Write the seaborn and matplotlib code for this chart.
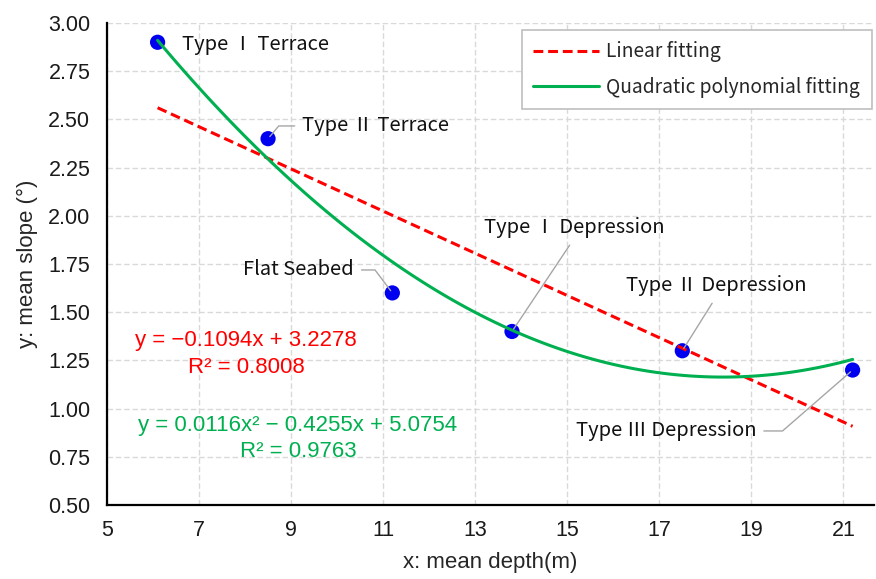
import numpy as np
import pandas as pd
import seaborn as sns
import matplotlib.pyplot as plt

# Data
depth = [6.1, 8.5, 11.2, 13.8, 17.5, 21.2]
slope = [2.9, 2.4, 1.6, 1.4, 1.3, 1.2]
names = ["Type Ⅰ Terrace", "Type Ⅱ Terrace", "Flat Seabed",
         "Type Ⅰ Depression", "Type Ⅱ Depression", "Type Ⅲ Depression"]

lin_eq = "y = −0.1094x + 3.2278"
lin_r2 = "R² = 0.8008"
quad_eq = "y = 0.0116x² − 0.4255x + 5.0754"
quad_r2 = "R² = 0.9763"

df = pd.DataFrame({"depth": depth, "slope": slope})

sns.set_style("white")
plt.rcParams["font.family"] = ["Liberation Sans", "DejaVu Sans"]
ann_font = ["Noto Sans CJK SC", "DejaVu Sans"]

fig = plt.figure(figsize=(8.76, 5.79), dpi=100)
ax = fig.add_axes([0.1221, 0.1278, 0.8759, 0.8325])

red = "#FF0000"
green = "#00B050"

sns.scatterplot(data=df, x="depth", y="slope", ax=ax, color="#0000F0",
                s=120, edgecolor="none", zorder=2, legend=False)
sns.regplot(data=df, x="depth", y="slope", ax=ax, order=1, ci=None, scatter=False,
            truncate=True, label="Linear fitting",
            line_kws=dict(color=red, lw=2.2, ls=(0, (3.2, 1.6)), zorder=3))
sns.regplot(data=df, x="depth", y="slope", ax=ax, order=2, ci=None, scatter=False,
            truncate=True, label="Quadratic polynomial fitting",
            line_kws=dict(color=green, lw=2.2, zorder=3))

ax.set_xlim(5, 21.67)
ax.set_ylim(0.5, 3.0)
ax.set_xticks([5, 7, 9, 11, 13, 15, 17, 19, 21])
ax.set_yticks(np.arange(0.5, 3.01, 0.25))
ax.yaxis.set_major_formatter(plt.FormatStrFormatter("%.2f"))
ax.tick_params(axis="both", length=0, labelsize=15.5, colors="#1a1a1a")
ax.tick_params(axis="x", pad=11)
ax.tick_params(axis="y", pad=12)
ax.grid(True, ls=(0, (4, 2)), color="#d9d9d9", lw=1)
ax.set_axisbelow(True)
for s in ["top", "right"]:
    ax.spines[s].set_visible(False)
for s in ["left", "bottom"]:
    ax.spines[s].set_color("black")
    ax.spines[s].set_linewidth(1.6)

ax.set_xlabel("x: mean depth(m)", fontsize=16, labelpad=8)
ax.set_ylabel("y: mean slope (°)", fontsize=16, labelpad=7)

# point labels with leader lines
lead = dict(arrowstyle="-", color="#a6a6a6", lw=1, shrinkA=3, shrinkB=2)
tk = dict(fontsize=14.5, family=ann_font, color="#111111")

ax.annotate(names[0], xy=(depth[0], slope[0]), xytext=(6.63, 2.891),
            ha="left", va="center", **tk)
ax.annotate(names[1], xy=(depth[1], slope[1]), xytext=(9.24, 2.466),
            ha="left", va="center",
            arrowprops=dict(connectionstyle="angle,angleA=0,angleB=50,rad=0", **lead), **tk)
ax.annotate(names[2], xy=(depth[2], slope[2]), xytext=(10.37, 1.719),
            ha="right", va="center",
            arrowprops=dict(connectionstyle="angle,angleA=0,angleB=-53,rad=0", **lead), **tk)
ax.annotate(names[3], xy=(depth[3], slope[3]), xytext=(15.15, 1.937),
            ha="center", va="center",
            arrowprops=dict(relpos=(0.5, 0), **lead), **tk)
ax.annotate(names[4], xy=(depth[4], slope[4]), xytext=(18.24, 1.636),
            ha="center", va="center",
            arrowprops=dict(relpos=(0.5, 0), **lead), **tk)
ax.annotate(names[5], xy=(depth[5], slope[5]), xytext=(19.11, 0.884),
            ha="right", va="center",
            arrowprops=dict(connectionstyle="angle,angleA=0,angleB=41,rad=0", **lead), **tk)

# fitting equations
ax.text(8.02, 1.351, lin_eq, color=red, fontsize=16, ha="center", va="center")
ax.text(8.02, 1.211, lin_r2, color=red, fontsize=16, ha="center", va="center")
ax.text(9.15, 0.910, quad_eq, color=green, fontsize=16, ha="center", va="center")
ax.text(9.15, 0.775, quad_r2, color=green, fontsize=16, ha="center", va="center")

leg = ax.legend(loc="upper right", bbox_to_anchor=(0.999, 0.99), frameon=True,
                fancybox=False, framealpha=1, edgecolor="#bfbfbf",
                borderaxespad=0.1,
                prop=dict(family=ann_font, size=13.8), handlelength=3.4,
                labelspacing=0.75, borderpad=0.6, handletextpad=0.4)
leg.get_frame().set_linewidth(1.2)

fig.savefig("out.png", dpi=100, facecolor="white")
